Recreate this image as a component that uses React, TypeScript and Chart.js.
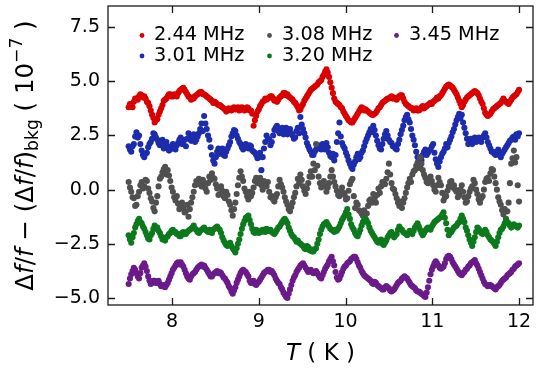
import React, { useEffect, useRef } from 'react';
import { Chart, registerables } from 'chart.js';

Chart.register(...registerables);

const FONT = '"DejaVu Sans", sans-serif';

// Temperature sweep: first point and spacing (K); the "_MID" arrays sit half a step later
const T_START = 7.5;
const T_STEP = 0.03;

const SERIES_NAMES = ['2.44 MHz', '3.01 MHz', '3.08 MHz', '3.20 MHz', '3.45 MHz'];
const SERIES_COLORS = ['#da0000', '#1d2cad', '#505050', '#0c7a1c', '#6b1a8a'];

const X_TICKS = [8, 9, 10, 11, 12];
const X_TICK_LABELS = ['8', '9', '10', '11', '12'];
const Y_TICKS = [-5, -2.5, 0, 2.5, 5, 7.5];
const Y_TICK_LABELS = ['\u22125.0', '\u22122.5', '0.0', '2.5', '5.0', '7.5'];

// values in units of 1e-7
const F_244 = [
  3.8, 3.9, 4.05, 4.2, 4.3, 4.35, 4.3, 4.05, 3.85, 3.45,
  3.1, 3.25, 3.6, 3.9, 4.15, 4.3, 4.4, 4.3, 4.35, 4.45,
  4.6, 4.7, 4.5, 4.3, 4.15, 4.2, 4.35, 4.45, 4.5, 4.4,
  4.3, 4.2, 4.1, 4.05, 3.95, 3.9, 3.8, 3.7, 3.65, 3.7,
  3.75, 3.7, 3.8, 3.7, 3.75, 3.7, 3.75, 3.65, 2.95, 3.4,
  3.7, 3.95, 4.1, 4.15, 4.25, 4.3, 4.1, 4.05, 4.25, 4.35,
  4.45, 4.4, 4.25, 4.15, 4.0, 3.8, 3.7, 3.95, 4.2, 4.4,
  4.6, 4.7, 4.8, 4.95, 5.05, 5.3, 5.55, 5.2, 4.7, 4.2,
  4.0, 3.9, 3.75, 3.5, 3.3, 3.15, 3.1, 3.3, 3.5, 3.7,
  3.75, 3.7, 3.6, 3.5, 3.45, 3.55, 3.75, 3.9, 4.05, 4.15,
  4.2, 4.3, 4.25, 4.15, 4.3, 4.35, 4.05, 3.9, 3.8, 3.75,
  3.7, 3.65, 3.7, 3.85, 3.8, 3.9, 4.0, 4.05, 4.15, 4.2,
  4.35, 4.55, 4.75, 4.85, 4.75, 4.6, 4.4, 4.1, 3.8, 4.05,
  4.25, 4.35, 4.45, 4.55, 4.45, 4.2, 3.95, 3.55, 3.4, 3.5,
  3.7, 3.8, 3.9, 4.0, 4.2, 4.05, 3.95, 4.15, 4.3, 4.4, 4.6,
];
const F_244_MID = [
  3.95, 3.8, 4.2, 4.15, 4.4, 4.25, 4.2, 4.0, 3.65, 3.3,
  3.2, 3.45, 3.75, 4.1, 4.2, 4.4, 4.3, 4.4, 4.3, 4.55,
  4.65, 4.6, 4.4, 4.25, 4.25, 4.3, 4.4, 4.5, 4.4, 4.35,
  4.25, 4.15, 4.0, 4.0, 3.9, 3.85, 3.75, 3.6, 3.75, 3.65,
  3.8, 3.75, 3.65, 3.8, 3.65, 3.8, 3.65, 3.5, 3.2, 3.6,
  3.85, 4.05, 4.2, 4.2, 4.3, 4.2, 4.15, 4.15, 4.3, 4.45,
  4.35, 4.3, 4.2, 4.05, 3.9, 3.65, 3.85, 4.1, 4.3, 4.5,
  4.65, 4.75, 4.85, 5.0, 5.2, 5.45, 5.4, 4.95, 4.45, 4.05,
  3.95, 3.8, 3.6, 3.4, 3.2, 3.1, 3.2, 3.4, 3.6, 3.8,
  3.65, 3.65, 3.55, 3.45, 3.5, 3.65, 3.8, 4.0, 4.1, 4.2,
  4.25, 4.2, 4.2, 4.25, 4.35, 4.2, 3.95, 3.85, 3.75, 3.65,
  3.75, 3.65, 3.8, 3.75, 3.85, 3.95, 3.95, 4.1, 4.25, 4.3,
  4.45, 4.65, 4.8, 4.8, 4.7, 4.5, 4.25, 3.95, 3.9, 4.15,
  4.3, 4.4, 4.5, 4.5, 4.35, 4.05, 3.75, 3.45, 3.45, 3.6,
  3.75, 3.85, 3.95, 4.1, 4.1, 4.0, 4.05, 4.25, 4.35, 4.5,
];

const F_301 = [
  2.0, 1.75, 2.1, 2.65, 2.5, 1.8, 1.5, 1.7, 2.1, 2.35,
  2.55, 2.3, 2.05, 2.3, 2.05, 2.0, 1.85, 2.1, 1.85, 2.15,
  2.4, 2.2, 2.0, 2.6, 2.25, 2.55, 2.3, 2.6, 3.05, 3.4,
  2.8, 2.3, 1.6, 1.2, 1.75, 1.65, 1.9, 1.55, 1.9, 2.2,
  2.6, 2.7, 2.35, 2.1, 1.85, 2.1, 1.9, 2.0, 1.75, 1.6,
  1.5, 0.9, 1.9, 2.5, 2.3, 2.2, 2.75, 2.95, 2.6, 2.85,
  2.7, 2.55, 2.8, 2.5, 2.4, 2.85, 3.35, 2.8, 2.4, 2.0,
  1.75, 1.6, 1.85, 2.05, 1.85, 2.0, 2.15, 1.7, 1.5, 1.35,
  2.2, 3.1, 2.15, 1.9, 1.55, 1.2, 0.95, 1.3, 1.65, 1.5,
  1.8, 2.2, 2.5, 2.8, 2.95, 2.5, 2.05, 1.85, 2.35, 2.7,
  2.3, 2.15, 2.0, 1.85, 2.3, 2.75, 3.2, 3.45, 3.1, 2.5,
  2.05, 1.5, 1.05, 1.6, 1.85, 1.7, 1.85, 2.1, 1.4, 1.05,
  1.5, 1.75, 2.1, 2.15, 2.45, 2.8, 3.2, 3.5, 3.45, 2.85,
  2.35, 2.2, 2.1, 2.4, 2.25, 2.3, 2.4, 2.6, 2.2, 1.9,
  1.75, 1.6, 1.85, 1.5, 1.75, 1.95, 2.15, 2.3, 2.45, 2.55, 2.6,
];
const F_301_MID = [
  1.85, 2.0, 2.45, 2.4, 2.1, 1.6, 1.65, 1.95, 2.2, 2.6,
  2.4, 2.15, 2.2, 1.9, 2.2, 1.8, 2.0, 1.95, 2.05, 2.3,
  2.1, 2.3, 2.35, 2.4, 2.45, 2.2, 2.45, 2.8, 2.7, 3.05,
  2.5, 1.95, 1.35, 1.5, 1.9, 1.75, 1.6, 1.75, 2.05, 2.45,
  2.75, 2.5, 2.2, 1.95, 1.95, 2.0, 2.05, 1.8, 1.7, 1.45,
  1.7, 1.5, 2.2, 2.35, 2.05, 2.5, 2.85, 2.7, 2.75, 2.55,
  2.85, 2.65, 2.6, 2.35, 2.7, 2.6, 3.0, 2.6, 2.15, 1.85,
  1.6, 1.75, 1.95, 1.9, 2.1, 1.85, 1.95, 1.55, 1.65, 1.6,
  2.6, 2.45, 2.0, 1.7, 1.35, 1.05, 1.15, 1.5, 1.4, 1.7,
  2.0, 2.35, 2.65, 2.65, 2.75, 2.25, 1.9, 2.1, 2.55, 2.5,
  2.2, 2.0, 1.9, 2.1, 2.55, 2.95, 3.35, 3.25, 2.8, 2.3,
  1.75, 1.3, 1.35, 1.75, 1.6, 1.8, 2.0, 1.7, 1.2, 1.3,
  1.65, 1.9, 1.95, 2.3, 2.65, 3.0, 3.35, 3.3, 3.1, 2.6,
  2.1, 2.35, 2.25, 2.2, 2.4, 2.2, 2.5, 2.4, 2.05, 1.75,
  1.65, 1.75, 1.6, 1.65, 1.85, 2.05, 2.25, 2.4, 2.3, 2.45,
];

const F_308 = [
  0.35, -0.1, -0.4, -0.7, -0.1, 0.35, 0.15, 0.4, -0.15, -0.55,
  -1.0, -0.3, 0.5, 0.8, 1.05, 0.9, 0.4, -0.1, -0.5, -0.65,
  -0.75, -0.85, -1.0, -1.25, -0.6, -0.1, 0.4, 0.5, 0.15, 0.3,
  -0.1, 0.6, 0.75, 0.5, 0.05, -0.2, -0.05, -0.4, -0.25, -0.7,
  -1.2, -0.6, 0.2, 0.85, 0.4, -0.1, -0.45, -0.3, 0.1, 0.55,
  0.35, 0.2, 0.4, 0.15, -0.1, -0.3, -0.55, -0.2, 0.45, 0.1,
  -0.35, -0.7, -1.0, -0.6, -0.15, 0.5, 0.7, 0.15, -0.2, 0.3,
  0.85, 1.2, 2.1, 0.6, 0.1, 0.4, -0.1, 0.3, 0.9, 0.35,
  -0.05, -0.3, 0.1, -0.25, -0.4, 0.25, 0.5, -0.85, -0.7, -1.0,
  -1.2, -1.35, -0.75, -0.45, -0.2, -0.6, 0.05, 0.15, 0.35, 0.5,
  1.2, 0.3, 0.0, -0.4, -0.75, -0.85, -0.4, 0.1, 0.5, 0.7,
  0.9, 1.25, 1.5, 0.9, 0.55, 0.3, 0.6, 0.2, -0.1, 0.55,
  0.2, -0.5, -0.3, 0.15, 0.4, 0.2, -0.1, -0.25, 0.2, -0.35,
  -0.55, -0.1, 0.15, 0.3, -0.2, -0.6, -0.3, 0.35, 0.55, 0.75,
  0.9, 0.3, -0.35, -0.7, -1.15, -1.35, -0.6, 1.2, 1.8, 1.5, -0.55,
];
const F_308_MID = [
  0.1, -0.35, -0.75, -0.3, 0.2, 0.05, 0.45, 0.05, -0.4, -0.85,
  -0.6, 0.15, 0.6, 0.95, 0.7, 0.65, 0.1, -0.35, -0.3, -0.9,
  -0.6, -1.05, -0.7, -0.9, -0.35, 0.2, 0.25, 0.3, 0.45, 0.05,
  0.3, 0.45, 0.55, 0.25, -0.25, 0.15, -0.3, -0.1, -0.55, -0.95,
  -0.9, -0.2, 0.55, 0.6, 0.05, -0.3, -0.1, -0.15, 0.4, 0.3,
  0.55, 0.0, 0.25, 0.35, -0.35, -0.45, -0.35, 0.15, 0.25, -0.1,
  -0.55, -0.9, -0.8, -0.35, 0.15, 0.3, 0.45, -0.05, 0.05, 0.6,
  0.6, 0.9, 1.1, 0.3, 0.25, 0.15, 0.1, 0.6, 0.6, 0.15,
  -0.25, -0.1, -0.15, -0.45, -0.05, 0.4, -0.3, -0.6, -0.95, -1.1,
  -0.95, -1.1, -0.5, -0.6, -0.4, -0.25, -0.15, 0.35, 0.25, 0.8,
  0.7, 0.05, -0.2, -0.6, -0.55, -0.6, -0.15, 0.3, 0.35, 0.85,
  1.1, 1.0, 1.2, 0.7, 0.35, 0.45, 0.4, 0.0, 0.2, 0.35,
  -0.15, -0.35, -0.05, 0.35, 0.1, 0.0, -0.35, 0.0, -0.1, -0.6,
  -0.3, 0.05, 0.45, 0.0, -0.45, -0.4, 0.0, 0.5, 0.4, 0.95,
  0.6, 0.0, -0.55, -0.95, -0.9, -1.0, 0.3, 1.45, 1.25, 0.2,
];

const F_320 = [
  -2.1, -2.45, -2.0, -1.6, -1.35, -1.55, -1.8, -2.1, -2.3, -2.0,
  -1.65, -1.75, -2.0, -2.3, -2.35, -2.15, -2.0, -1.85, -1.95, -2.05,
  -2.15, -1.95, -2.05, -1.9, -1.8, -1.65, -1.85, -2.0, -1.85, -1.75,
  -1.9, -1.85, -2.0, -1.8, -1.7, -1.85, -2.2, -2.45, -2.6, -2.45,
  -2.7, -2.9, -2.5, -2.05, -1.6, -1.3, -1.2, -1.6, -1.95, -1.85,
  -2.0, -1.95, -1.85, -1.8, -1.9, -1.95, -2.05, -1.85, -1.7, -1.5,
  -1.35, -1.55, -1.9, -2.15, -2.3, -2.35, -2.5, -2.6, -2.75, -2.65,
  -2.75, -2.85, -2.7, -2.3, -1.85, -1.6, -1.5, -1.7, -1.85, -1.95,
  -1.9, -1.7, -1.4, -1.2, -0.9, -1.35, -1.75, -2.0, -2.15, -1.85,
  -1.5, -1.35, -1.55, -1.9, -2.1, -2.3, -2.45, -2.3, -2.55, -2.35,
  -2.1, -1.95, -2.2, -2.05, -1.7, -1.85, -2.0, -2.1, -1.9, -2.05,
  -1.75, -1.55, -1.85, -2.1, -1.9, -1.75, -1.85, -1.6, -1.45, -1.35,
  -1.25, -1.05, -1.55, -2.1, -1.95, -1.75, -1.65, -1.5, -1.2, -1.5,
  -1.9, -2.3, -2.6, -2.2, -1.75, -1.9, -2.05, -1.85, -2.1, -2.3,
  -2.4, -2.6, -2.2, -1.85, -1.7, -1.4, -1.55, -1.75, -1.6, -1.7, -1.65,
];
const F_320_MID = [
  -2.3, -2.2, -1.75, -1.45, -1.5, -1.7, -1.95, -2.25, -2.1, -1.8,
  -1.8, -1.9, -2.15, -2.25, -2.2, -2.05, -1.9, -1.95, -2.05, -2.15,
  -2.0, -2.05, -1.95, -1.85, -1.75, -1.8, -1.95, -1.9, -1.8, -1.85,
  -1.95, -1.95, -1.85, -1.75, -1.8, -2.0, -2.35, -2.55, -2.5, -2.6,
  -2.8, -2.7, -2.3, -1.8, -1.45, -1.25, -1.4, -1.8, -2.0, -1.95,
  -1.9, -1.85, -1.95, -1.9, -1.85, -2.0, -1.95, -1.75, -1.6, -1.4,
  -1.45, -1.75, -2.05, -2.2, -2.4, -2.45, -2.55, -2.7, -2.6, -2.8,
  -2.85, -2.75, -2.5, -2.05, -1.7, -1.55, -1.6, -1.8, -1.9, -1.85,
  -1.8, -1.55, -1.3, -1.05, -1.15, -1.6, -1.85, -2.1, -2.0, -1.65,
  -1.4, -1.45, -1.75, -2.0, -2.2, -2.4, -2.35, -2.5, -2.45, -2.2,
  -2.0, -2.1, -2.1, -1.85, -1.8, -1.95, -2.05, -2.0, -1.95, -1.9,
  -1.65, -1.7, -2.0, -2.0, -1.8, -1.8, -1.7, -1.5, -1.4, -1.3,
  -1.15, -1.3, -1.85, -2.0, -1.85, -1.7, -1.55, -1.35, -1.35, -1.75,
  -2.1, -2.45, -2.4, -1.95, -1.8, -2.0, -1.95, -1.95, -2.2, -2.35,
  -2.5, -2.4, -2.0, -1.8, -1.55, -1.5, -1.65, -1.7, -1.65, -1.75,
];

const F_345 = [
  -4.35, -3.9, -3.6, -3.85, -4.1, -3.6, -3.4, -3.75, -4.2, -4.3,
  -4.2, -4.3, -4.35, -4.45, -4.5, -4.3, -4.0, -3.7, -3.5, -3.35,
  -3.35, -3.55, -3.85, -4.1, -4.0, -3.85, -3.7, -3.55, -3.45, -3.5,
  -3.7, -3.9, -4.0, -3.85, -3.75, -3.8, -3.95, -4.1, -4.3, -4.55,
  -4.8, -4.5, -4.15, -3.85, -3.7, -3.8, -4.0, -4.3, -4.2, -4.4,
  -4.25, -4.05, -3.85, -3.75, -3.7, -3.75, -3.95, -4.2, -4.35, -4.6,
  -4.85, -5.0, -4.6, -4.2, -3.95, -3.7, -3.5, -3.4, -3.6, -3.8,
  -3.7, -3.85, -3.75, -3.95, -4.1, -3.8, -3.55, -3.3, -3.1, -3.5,
  -4.05, -4.1, -3.8, -3.55, -3.4, -3.3, -3.15, -3.1, -3.35, -3.6,
  -3.85, -4.0, -4.1, -4.2, -4.35, -4.3, -4.45, -4.55, -4.6, -4.45,
  -4.55, -4.7, -4.6, -4.4, -4.25, -4.1, -4.0, -4.1, -4.3, -4.45,
  -4.55, -4.7, -4.75, -4.85, -4.95, -4.5, -3.9, -3.55, -3.3, -3.5,
  -3.65, -3.55, -3.2, -3.05, -3.2, -3.45, -3.65, -3.85, -3.95, -3.8,
  -3.65, -3.5, -3.35, -3.25, -3.5, -3.8, -4.1, -4.35, -4.45, -4.4,
  -4.5, -4.6, -4.45, -4.3, -4.15, -4.05, -3.9, -3.8, -3.65, -3.5, -3.4,
];
const F_345_MID = [
  -4.1, -3.75, -3.7, -4.0, -3.85, -3.5, -3.55, -4.0, -4.35, -4.2,
  -4.3, -4.2, -4.45, -4.4, -4.4, -4.15, -3.85, -3.6, -3.4, -3.45,
  -3.45, -3.7, -4.0, -4.15, -3.9, -3.8, -3.6, -3.5, -3.55, -3.6,
  -3.8, -4.0, -3.9, -3.8, -3.85, -3.85, -4.05, -4.2, -4.45, -4.7,
  -4.65, -4.3, -4.0, -3.75, -3.75, -3.9, -4.2, -4.25, -4.35, -4.3,
  -4.15, -3.95, -3.8, -3.7, -3.8, -3.85, -4.1, -4.3, -4.5, -4.75,
  -4.95, -4.8, -4.4, -4.05, -3.8, -3.6, -3.45, -3.5, -3.7, -3.75,
  -3.8, -3.8, -3.85, -4.05, -3.95, -3.65, -3.45, -3.2, -3.3, -3.8,
  -4.15, -3.95, -3.65, -3.5, -3.35, -3.2, -3.1, -3.2, -3.5, -3.75,
  -3.95, -4.05, -4.15, -4.3, -4.25, -4.4, -4.5, -4.6, -4.5, -4.5,
  -4.65, -4.65, -4.5, -4.3, -4.2, -4.05, -4.05, -4.2, -4.4, -4.5,
  -4.65, -4.7, -4.8, -4.9, -4.75, -4.2, -3.7, -3.4, -3.4, -3.6,
  -3.6, -3.4, -3.1, -3.1, -3.35, -3.55, -3.75, -3.9, -3.85, -3.7,
  -3.55, -3.4, -3.3, -3.4, -3.65, -3.95, -4.25, -4.4, -4.4, -4.45,
  -4.55, -4.5, -4.4, -4.2, -4.1, -3.95, -3.85, -3.7, -3.55, -3.45,
];

const SERIES = [F_244, F_301, F_308, F_320, F_345];
const SERIES_MID = [F_244_MID, F_301_MID, F_308_MID, F_320_MID, F_345_MID];

// axis ranges
const X_MIN = 7.262;
const X_MAX = 12.161;
const Y_MIN = -5.32;
const Y_MAX = 8.47;

// layout of the plotting frame inside the 538x372 canvas
const W = 538;
const H = 372;
const AREA = { left: 108, top: 6, right: 533, bottom: 305 };

type Seg = { t: string; kind: 'n' | 'i' | 'sub' | 'sup' };

const Y_TITLE: Seg[] = [
  { t: '\u0394', kind: 'n' },
  { t: 'f', kind: 'i' },
  { t: '/', kind: 'n' },
  { t: 'f', kind: 'i' },
  { t: ' \u2212 (', kind: 'n' },
  { t: '\u0394', kind: 'n' },
  { t: 'f', kind: 'i' },
  { t: '/', kind: 'n' },
  { t: 'f', kind: 'i' },
  { t: ')', kind: 'n' },
  { t: 'bkg', kind: 'sub' },
  { t: ' ( 10', kind: 'n' },
  { t: '\u22127', kind: 'sup' },
  { t: ' )', kind: 'n' },
];

const X_TITLE: Seg[] = [
  { t: 'T', kind: 'i' },
  { t: ' ( K )', kind: 'n' },
];

function segFont(kind: Seg['kind'], size: number) {
  if (kind === 'i') return `italic ${size}px ${FONT}`;
  if (kind === 'sub' || kind === 'sup') return `${size * 0.7}px ${FONT}`;
  return `${size}px ${FONT}`;
}

function segsWidth(ctx: CanvasRenderingContext2D, segs: Seg[], size: number) {
  let w = 0;
  for (const s of segs) {
    ctx.font = segFont(s.kind, size);
    w += ctx.measureText(s.t).width;
  }
  return w;
}

function drawSegs(ctx: CanvasRenderingContext2D, segs: Seg[], size: number, x0: number, y0: number) {
  let x = x0;
  for (const s of segs) {
    ctx.font = segFont(s.kind, size);
    let dy = 0;
    if (s.kind === 'sub') dy = size * 0.22;
    if (s.kind === 'sup') dy = -size * 0.42;
    ctx.fillText(s.t, x, y0 + dy);
    x += ctx.measureText(s.t).width;
  }
}

const framePlugin = {
  id: 'frameTicks',
  afterDatasetsDraw(chart: any) {
    const { ctx, chartArea: a, scales } = chart;
    const xs = scales.x;
    const ys = scales.y;
    const L = 7;
    ctx.save();
    ctx.strokeStyle = '#1a1a1a';
    ctx.lineWidth = 1.3;
    ctx.strokeRect(a.left, a.top, a.right - a.left, a.bottom - a.top);
    ctx.beginPath();
    for (const v of X_TICKS) {
      const px = Math.round(xs.getPixelForValue(v)) + 0.5;
      ctx.moveTo(px, a.bottom);
      ctx.lineTo(px, a.bottom - L);
      ctx.moveTo(px, a.top);
      ctx.lineTo(px, a.top + L);
    }
    for (const v of Y_TICKS) {
      const py = Math.round(ys.getPixelForValue(v)) + 0.5;
      ctx.moveTo(a.left, py);
      ctx.lineTo(a.left + L, py);
      ctx.moveTo(a.right, py);
      ctx.lineTo(a.right - L, py);
    }
    ctx.stroke();
    ctx.restore();
  },
};

const LEGEND_MARK_X = [142, 269.5, 396.5];
const LEGEND_TEXT_X = [154, 282, 409];
const LEGEND_ROW_Y = [35, 55.5];

const legendPlugin = {
  id: 'colLegend',
  afterDraw(chart: any) {
    const { ctx } = chart;
    ctx.save();
    ctx.textBaseline = 'middle';
    ctx.textAlign = 'left';
    ctx.font = `19.3px ${FONT}`;
    SERIES_NAMES.forEach((name, k) => {
      const col = Math.floor(k / 2);
      const row = k % 2;
      const y = LEGEND_ROW_Y[row];
      ctx.fillStyle = SERIES_COLORS[k];
      ctx.beginPath();
      ctx.arc(LEGEND_MARK_X[col], y + 0.5, 2.4, 0, Math.PI * 2);
      ctx.fill();
      ctx.fillStyle = '#000';
      ctx.fillText(name, LEGEND_TEXT_X[col], y);
    });
    ctx.restore();
  },
};

const titlesPlugin = {
  id: 'axisTitles',
  afterDraw(chart: any) {
    const { ctx, chartArea: a } = chart;
    ctx.save();
    ctx.fillStyle = '#000';
    ctx.textBaseline = 'alphabetic';
    ctx.textAlign = 'left';
    // x title
    const sx = 23;
    const wx = segsWidth(ctx, X_TITLE, sx);
    drawSegs(ctx, X_TITLE, sx, (a.left + a.right) / 2 - wx / 2, 360);
    // y title (rotated)
    const sy = 24.5;
    const wy = segsWidth(ctx, Y_TITLE, sy);
    ctx.translate(32.5, (a.top + a.bottom) / 2);
    ctx.rotate(-Math.PI / 2);
    drawSegs(ctx, Y_TITLE, sy, -wy / 2, 0);
    ctx.restore();
  },
};

export default function App() {
  const ref = useRef<HTMLCanvasElement>(null);

  useEffect(() => {
    document.body.style.margin = '0';
    const canvas = ref.current;
    if (!canvas) return;

    const datasets = SERIES.map((vals, k) => ({
      label: SERIES_NAMES[k],
      data: [
        ...vals.map((v, i) => ({ x: T_START + T_STEP * i, y: v })),
        ...SERIES_MID[k].map((v, i) => ({ x: T_START + T_STEP * (i + 0.5), y: v })),
      ],
      backgroundColor: SERIES_COLORS[k],
      borderColor: SERIES_COLORS[k],
      borderWidth: 0,
      pointRadius: 3.05,
      pointHoverRadius: 3.05,
      showLine: false,
      order: SERIES.length - k,
    }));

    const chart = new Chart(canvas, {
      type: 'scatter',
      data: { datasets },
      options: {
        animation: false,
        responsive: false,
        events: [],
        layout: { padding: { left: 0, right: W - AREA.right, top: AREA.top, bottom: 0 } },
        plugins: {
          legend: { display: false },
          tooltip: { enabled: false },
          title: { display: false },
        },
        scales: {
          x: {
            type: 'linear',
            min: X_MIN,
            max: X_MAX,
            afterBuildTicks: (s: any) => {
              s.ticks = X_TICKS.map((v) => ({ value: v }));
            },
            afterFit: (s: any) => {
              s.height = H - AREA.bottom;
              s.paddingLeft = 0;
              s.paddingRight = 0;
            },
            grid: { display: false, drawTicks: false },
            border: { display: false },
            ticks: {
              autoSkip: false,
              maxRotation: 0,
              padding: 6,
              color: '#000',
              font: { family: FONT, size: 19 },
              callback: (v: any) => {
                const i = X_TICKS.indexOf(Number(v));
                return i >= 0 ? X_TICK_LABELS[i] : '';
              },
            },
          },
          y: {
            type: 'linear',
            min: Y_MIN,
            max: Y_MAX,
            afterBuildTicks: (s: any) => {
              s.ticks = Y_TICKS.map((v) => ({ value: v }));
            },
            afterFit: (s: any) => {
              s.width = AREA.left;
              s.paddingTop = 0;
              s.paddingBottom = 0;
            },
            grid: { display: false, drawTicks: false },
            border: { display: false },
            ticks: {
              autoSkip: false,
              padding: 8,
              color: '#000',
              font: { family: FONT, size: 19 },
              callback: (v: any) => {
                const i = Y_TICKS.indexOf(Number(v));
                return i >= 0 ? Y_TICK_LABELS[i] : '';
              },
            },
          },
        },
      },
      plugins: [framePlugin, legendPlugin, titlesPlugin],
    } as any);

    return () => chart.destroy();
  }, []);

  return (
    <div style={{ width: W, height: H }}>
      <canvas ref={ref} width={W} height={H} style={{ display: 'block', width: W, height: H }} />
    </div>
  );
}
